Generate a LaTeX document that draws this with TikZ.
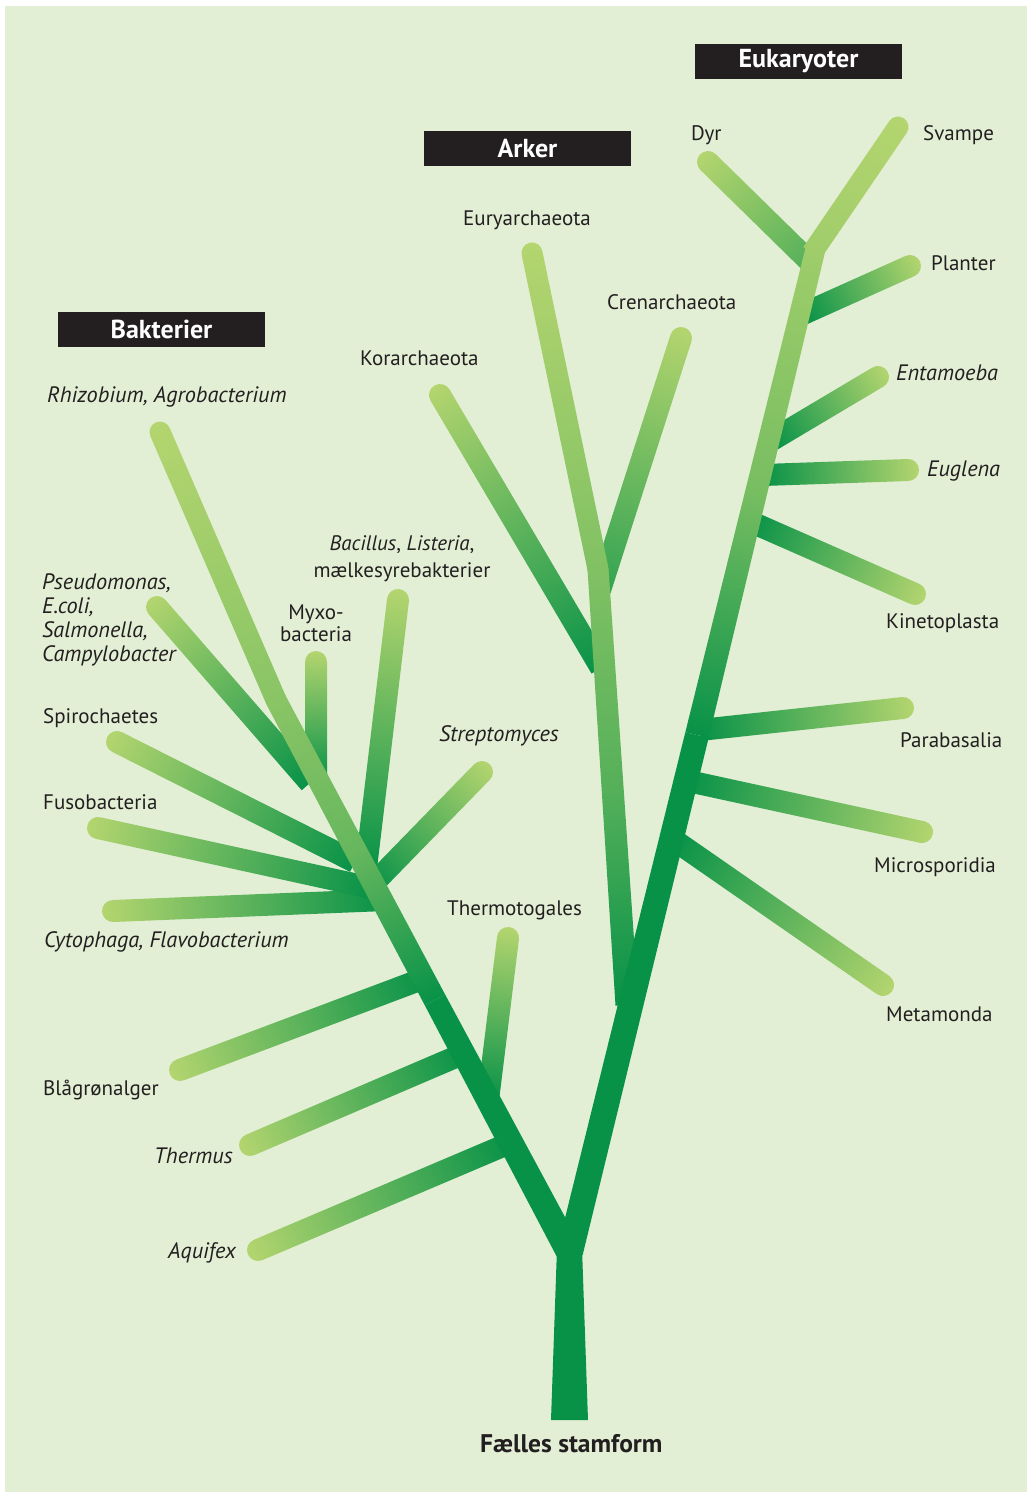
\documentclass[tikz,border=0pt]{standalone}
\usepackage{fontspec}
\setmainfont{PT Sans}
\usetikzlibrary{calc}
\definecolor{tdark}{RGB}{8,146,72}
\definecolor{tlight}{RGB}{180,213,111}
\definecolor{bgcol}{RGB}{226,239,213}
\definecolor{ink}{RGB}{35,31,32}
% computes angle, length and start of the limb from #1 to #2
\newcommand\limbsetup[2]{%
  \path let \p1=(#1), \p2=(#2) in \pgfextra{%
    \pgfmathsetmacro\limbtmpa{atan2((\y2)-(\y1),(\x2)-(\x1))}%
    \pgfmathsetmacro\limbtmpb{veclen((\x2)-(\x1),(\y2)-(\y1))}%
    \pgfmathsetmacro\limbtmpx{\x1}%
    \pgfmathsetmacro\limbtmpy{\y1}%
    \xdef\limbang{\limbtmpa}\xdef\limblen{\limbtmpb}%
    \xdef\limbx{\limbtmpx}\xdef\limby{\limbtmpy}};}
% tapered shaded limb, flat ends: base #1, tip #2, widths #3 -> #4, shading #5
\newcommand\limb[5]{%
  \limbsetup{#1}{#2}%
  \begin{scope}[transform canvas={shift={(\limbx pt,\limby pt)},rotate=\limbang}]
    \shade[#5] (0pt,-#3/2) -- (\limblen pt,-#4/2) -- (\limblen pt,#4/2) -- (0pt,#3/2) -- cycle;
  \end{scope}}
% same with a round end at the tip
\newcommand\limbr[5]{%
  \limbsetup{#1}{#2}%
  \begin{scope}[transform canvas={shift={(\limbx pt,\limby pt)},rotate=\limbang}]
    \shade[#5] (0pt,-#3/2) -- (\limblen pt,-#4/2)
      arc[start angle=-90,end angle=90,radius=#4/2] -- (0pt,#3/2) -- cycle;
  \end{scope}}
% side branch with round light tip
\newcommand\twig[3][tdark]{%
  \limbr{#2}{#3}{22pt}{22pt}{left color=#1,right color=tlight}}
\begin{document}
\begin{tikzpicture}[x=1pt,y=-1pt,
  lab/.style={font=\fontsize{21}{24}\selectfont, text=ink, inner sep=0pt, anchor=base west},
  itl/.style={lab, font=\fontsize{22.3}{24}\selectfont\itshape},
  hdr/.style={fill=ink, text=white, font=\fontsize{26}{30}\selectfont\bfseries,
    minimum width=207pt, minimum height=35pt, inner sep=0pt}]
\useasboundingbox (0,0) rectangle (1027,1492);
\fill[bgcol] (5,6) rectangle (1027,1492);

% ---------- coordinates ----------
% main stems
\coordinate (fork)  at (568,1250);
\coordinate (forkE) at (570,1252);
\coordinate (bD)    at (435,1000);
\coordinate (bK)    at (276,700);
\coordinate (bTip)  at (160,432);
\coordinate (eMid)  at (697,735);
\coordinate (eTop)  at (816,247);
\coordinate (svB)   at (812,253);
\coordinate (svT)   at (898,127);
\coordinate (dyB)   at (810,262);
\coordinate (dyT)   at (708,162);
% eukaryote side branches
\coordinate (plB) at (803,314); \coordinate (plT) at (910,266);
\coordinate (enB) at (772,440); \coordinate (enT) at (878,377);
\coordinate (euB) at (763,475); \coordinate (euT) at (908,470);
\coordinate (kiB) at (751,522); \coordinate (kiT) at (915,594);
\coordinate (paB) at (700,730); \coordinate (paT) at (903,708);
\coordinate (miB) at (688,781); \coordinate (miT) at (922,832);
\coordinate (meB) at (674,840); \coordinate (meT) at (883,985);
% archaea
\coordinate (aB)   at (627,1005);
\coordinate (aTop) at (598,569);
\coordinate (eyT)  at (532,253);
\coordinate (koB)  at (601,668); \coordinate (koT) at (440,395);
\coordinate (crB)  at (600,590); \coordinate (crT) at (681,338);
% bacteria side branches
\coordinate (aqB) at (510,1143); \coordinate (aqT) at (258,1250);
\coordinate (thB) at (465,1053); \coordinate (thT) at (250,1145);
\coordinate (blB) at (425,978);  \coordinate (blT) at (180,1070);
\coordinate (ttB) at (488,1100); \coordinate (ttT) at (508,938);
\coordinate (cyB) at (385,900);  \coordinate (cyT) at (113,911);
\coordinate (fuB) at (372,888);  \coordinate (fuT) at (98,828);
\coordinate (spB) at (355,862);  \coordinate (spT) at (117,742);
\coordinate (psB) at (310,783);  \coordinate (psT) at (157,607);
\coordinate (myB) at (316,782);  \coordinate (myT) at (316,662);
\coordinate (baB) at (366,868);  \coordinate (baT) at (398,600);
\coordinate (stB) at (372,885);  \coordinate (stT) at (482,772);

% ---------- eukaryote side branches ----------
\twig{plB}{plT}
\twig{enB}{enT}
\twig{euB}{euT}
\twig{kiB}{kiT}
\twig{paB}{paT}
\twig{miB}{miT}
\twig{meB}{meT}
\twig[tdark!55!tlight]{dyB}{dyT}

% ---------- archaea ----------
\twig{koB}{koT}
\twig[tdark!75!tlight]{crB}{crT}
\limb{aB}{aTop}{23pt}{21pt}{left color=tdark,right color=tlight!70!tdark,middle color=tlight!45!tdark}
\fill[tlight!70!tdark] (aTop) circle[radius=10.5pt];
\limbr{aTop}{eyT}{21pt}{21pt}{left color=tlight!70!tdark,right color=tlight}

% ---------- bacteria side branches ----------
\twig{aqB}{aqT}
\twig{thB}{thT}
\twig{blB}{blT}
\twig{ttB}{ttT}
\twig{cyB}{cyT}
\twig{fuB}{fuT}
\twig{spB}{spT}
\twig{psB}{psT}
\twig{myB}{myT}
\twig{baB}{baT}
\twig{stB}{stT}

% ---------- bacteria stem ----------
\limb{fork}{bD}{26pt}{23pt}{left color=tdark,right color=tdark}
\limb{bD}{bK}{23pt}{21pt}{left color=tdark,right color=tlight!75!tdark,middle color=tlight!55!tdark}
\fill[tlight!75!tdark] (bK) circle[radius=10.5pt];
\limbr{bK}{bTip}{21pt}{21pt}{left color=tlight!75!tdark,right color=tlight}

% ---------- eukaryote stem ----------
\limb{forkE}{eMid}{26pt}{24pt}{left color=tdark,right color=tdark}
\limb{eMid}{eTop}{24pt}{20pt}{left color=tdark,right color=tlight!88!tdark,middle color=tlight!65!tdark}
\fill[tlight!88!tdark] (eTop) circle[radius=10pt];
\limbr{svB}{svT}{21pt}{21pt}{left color=tlight!88!tdark,right color=tlight}

% ---------- trunk ----------
\fill[tdark] (551,1420) -- (588,1420) -- (582,1248) -- (557,1248) -- cycle;

% ---------- headers ----------
\node[hdr] (hEuk) at (798.5,61) {Eukaryoter};
\node[hdr] (hArk) at (527.5,148.5) {Arker};
\node[hdr] (hBak) at (161.5,329.5) {Bakterier};

% ---------- labels ----------
\node[lab] (lDyr) at (691,140) {Dyr};
\node[lab] (lSva) at (923,140) {Svampe};
\node[lab] (lPla) at (931,270) {Planter};
\node[itl] (lEnt) at (896,380) {Entamoeba};
\node[itl] (lEug) at (927,476) {Euglena};
\node[lab] (lKin) at (886,628) {Kinetoplasta};
\node[lab] (lPar) at (900,747) {Parabasalia};
\node[lab] (lMic) at (874,872) {Microsporidia};
\node[lab] (lMet) at (886,1021) {Metamonda};
\node[lab] (lEur) at (463,225) {Euryarchaeota};
\node[lab] (lCre) at (607,309) {Crenarchaeota};
\node[lab] (lKor) at (360,365) {Korarchaeota};
\node[itl] (lRhi) at (47,402) {Rhizobium, Agrobacterium};
\node[itl, anchor=north west, align=left] (lPse) at (42,574)
  {Pseudomonas,\\E.coli,\\Salmonella,\\Campylobacter};
\node[lab, anchor=north, align=center, font=\fontsize{21}{22}\selectfont] (lMyx) at (316,605)
  {Myxo-\\bacteria};
\node[lab, anchor=north, align=center, font=\fontsize{21}{27}\selectfont] (lBac) at (402,535)
  {\itshape Bacillus\/\upshape, \itshape Listeria\/\upshape,\\mælkesyrebakterier};
\node[itl] (lStr) at (439,741) {Streptomyces};
\node[lab] (lSpi) at (43,723) {Spirochaetes};
\node[lab] (lFus) at (43,809) {Fusobacteria};
\node[itl] (lCyt) at (44,947) {Cytophaga, Flavobacterium};
\node[lab] (lThe) at (447,915) {Thermotogales};
\node[lab] (lBla) at (43,1095) {Blågrønalger};
\node[itl] (lThm) at (154,1163) {Thermus};
\node[itl] (lAqu) at (168,1258) {Aquifex};
\node[lab, font=\fontsize{25.5}{30}\selectfont\bfseries] (lRoot) at (480,1452) {Fælles stamform};
\end{tikzpicture}
\end{document}
